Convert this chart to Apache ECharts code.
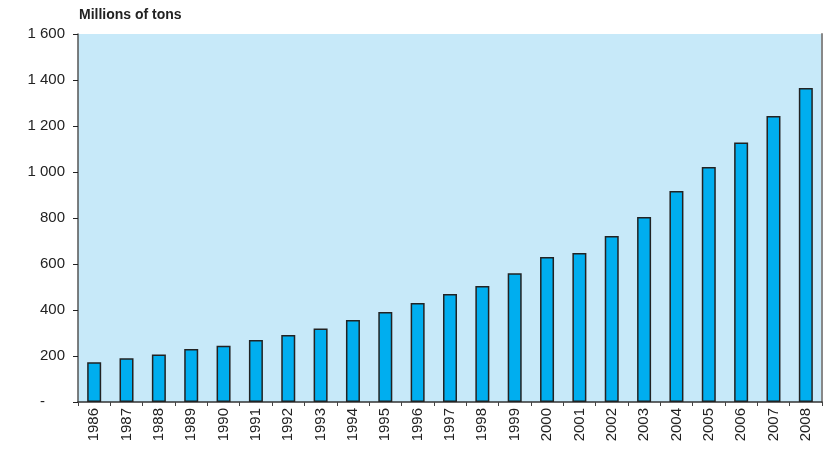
<!DOCTYPE html>
<html>
<head>
<meta charset="utf-8">
<script src="https://cdn.jsdelivr.net/npm/echarts@6/dist/echarts.min.js"></script>
<style>
  html, body { margin: 0; padding: 0; background: #fff; }
  #chart { width: 839px; height: 454px; }
</style>
</head>
<body>
<div id="chart"></div>
<script>
const years = ['1986', '1987', '1988', '1989', '1990', '1991', '1992', '1993', '1994', '1995', '1996', '1997',
  '1998', '1999', '2000', '2001', '2002', '2003', '2004', '2005', '2006', '2007', '2008'];
const tons = [173, 190, 207, 230, 245, 270, 291, 320, 357, 391, 430, 470,
  504, 560, 630, 648, 722, 804, 917, 1022, 1128, 1243, 1365];

// zero shows as an accounting-style dash, set in from the right edge
const fmtTick = v => v === 0 ? '{dash|-}' : String(v).replace(/\B(?=(\d{3})+(?!\d))/g, ' ');

const myChart = echarts.init(document.getElementById('chart'));

const option = {
    animation: false,
    textStyle: { fontFamily: 'Liberation Sans, Arial, sans-serif' },
    title: {
        text: 'Millions of tons',
        left: 74,
        top: 3,
        textStyle: { fontSize: 14, fontWeight: 'bold', color: '#222' }
    },
    grid: {
        left: 78,
        right: 17,
        top: 34,
        bottom: 52,
        show: true,
        backgroundColor: '#C7E9F9',
        borderWidth: 0
    },
    xAxis: {
        type: 'category',
        data: years,
        boundaryGap: true,
        axisLine: { lineStyle: { color: '#333', width: 1.5 } },
        axisTick: { show: true, length: 4, lineStyle: { color: '#444' } },
        axisLabel: { rotate: 90, fontSize: 15, color: '#222', margin: 6 }
    },
    yAxis: [
        {
            type: 'value',
            min: 0,
            max: 1600,
            interval: 200,
            axisLine: { show: true, lineStyle: { color: '#555', width: 1.5 } },
            axisTick: { show: true, length: 5, lineStyle: { color: '#222' } },
            splitLine: { show: false },
            axisLabel: {
                fontSize: 15, color: '#222', margin: 13, formatter: fmtTick,
                rich: { dash: { fontSize: 15, color: '#222', padding: [0, 20, 0, 0] } }
            }
        },
        {
            type: 'value',
            position: 'right',
            min: 0,
            max: 1600,
            interval: 200,
            axisLine: { show: true, lineStyle: { color: '#888', width: 2 } },
            axisTick: { show: false },
            axisLabel: { show: false },
            splitLine: { show: false }
        }
    ],
    series: [
        {
            name: 'Millions of tons',
            type: 'bar',
            data: tons,
            barWidth: 14,
            itemStyle: {
                color: '#00AEEF',
                borderColor: '#222',
                borderWidth: 1.5
            }
        }
    ]
};

myChart.setOption(option);
window.addEventListener('resize', () => myChart.resize());
</script>
</body>
</html>
